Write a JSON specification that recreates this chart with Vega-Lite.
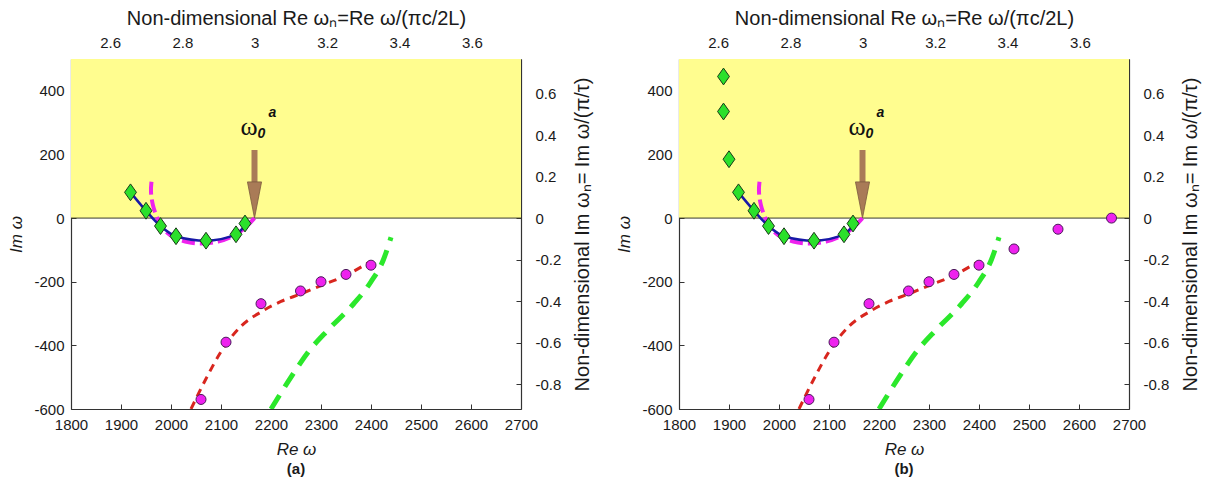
{
  "$schema": "https://vega.github.io/schema/vega-lite/v6.json",
  "padding": {"left": 7, "top": 8, "right": 4, "bottom": 4},
  "background": "white",
  "datasets": {
    "one": [{}],
    "diamonds_a": [
      {"re": 1919, "im": 81}, {"re": 1950, "im": 23}, {"re": 1979, "im": -25}, {"re": 2010, "im": -57},
      {"re": 2070, "im": -71}, {"re": 2130, "im": -51}, {"re": 2148, "im": -17}
    ],
    "diamonds_b": [
      {"re": 1889, "im": 445}, {"re": 1889, "im": 335}, {"re": 1900, "im": 185},
      {"re": 1919, "im": 81}, {"re": 1950, "im": 23}, {"re": 1979, "im": -25}, {"re": 2010, "im": -57},
      {"re": 2070, "im": -71}, {"re": 2130, "im": -51}, {"re": 2148, "im": -17}
    ],
    "blue": [
      {"re": 1919, "im": 81}, {"re": 1950, "im": 23}, {"re": 1979, "im": -25}, {"re": 2010, "im": -57},
      {"re": 2070, "im": -71}, {"re": 2130, "im": -51}, {"re": 2155, "im": -8}
    ],
    "magenta": [
      {"k": 1, "re": 1961, "im": 114}, {"k": 2, "re": 1959, "im": 85}, {"k": 3, "re": 1963, "im": 40},
      {"k": 4, "re": 1972, "im": 0}, {"k": 5, "re": 1984, "im": -36}, {"k": 6, "re": 2002, "im": -60},
      {"k": 7, "re": 2027, "im": -75}, {"k": 8, "re": 2060, "im": -82}, {"k": 9, "re": 2095, "im": -76},
      {"k": 10, "re": 2125, "im": -58}, {"k": 11, "re": 2150, "im": -30}, {"k": 12, "re": 2167, "im": 0}
    ],
    "circles_a": [
      {"re": 2060, "im": -570}, {"re": 2110, "im": -390}, {"re": 2180, "im": -269}, {"re": 2259, "im": -229},
      {"re": 2300, "im": -200}, {"re": 2350, "im": -177}, {"re": 2400, "im": -148}
    ],
    "circles_b": [
      {"re": 2060, "im": -570}, {"re": 2110, "im": -390}, {"re": 2180, "im": -269}, {"re": 2259, "im": -229},
      {"re": 2300, "im": -200}, {"re": 2350, "im": -177}, {"re": 2400, "im": -148}, {"re": 2470, "im": -97},
      {"re": 2558, "im": -35}, {"re": 2665, "im": 0}
    ],
    "red": [
      {"re": 2040, "im": -600}, {"re": 2070, "im": -505}, {"re": 2100, "im": -420}, {"re": 2140, "im": -340},
      {"re": 2180, "im": -295}, {"re": 2220, "im": -262}, {"re": 2260, "im": -238}, {"re": 2300, "im": -212},
      {"re": 2350, "im": -180}, {"re": 2395, "im": -140}
    ],
    "green": [
      {"re": 2200, "im": -600}, {"re": 2240, "im": -500}, {"re": 2275, "im": -420}, {"re": 2315, "im": -350},
      {"re": 2365, "im": -270}, {"re": 2400, "im": -200}, {"re": 2425, "im": -130}, {"re": 2440, "im": -60}
    ],
    "sec": [{"ren": 3.0, "imn": 0}]
  },
  "hconcat": [
    {
      "width": 450, "height": 350,
      "title": {"text": "(a)", "orient": "bottom", "fontSize": 15, "fontWeight": "bold", "font": "Liberation Sans", "offset": 5, "color": "#1a1a1a"},
      "layer": [
        {
          "layer": [
            {"data": {"name": "one"}, "mark": {"type": "rect", "color": "#FFFD8F"},
             "encoding": {
               "x": {"datum": 1800, "type": "quantitative", "scale": {"domain": [1800, 2700], "nice": false, "zero": false},
                     "axis": {"title": "Re ω", "titleFontStyle": "italic", "values": [1800, 1900, 2000, 2100, 2200, 2300, 2400, 2500, 2600, 2700], "labelExpr": "datum.value + ''", "labelPadding": 13, "titlePadding": 9}},
               "x2": {"datum": 2700},
               "y": {"datum": 0, "type": "quantitative", "scale": {"domain": [-600, 500], "nice": false, "zero": false},
                     "axis": {"title": "Im ω", "titleFontStyle": "italic", "values": [-600, -400, -200, 0, 200, 400], "labelExpr": "datum.value + ''", "labelPadding": 12, "titlePadding": 8}},
               "y2": {"datum": 500}
             }},
            {"data": {"name": "one"}, "mark": {"type": "rule", "color": "#3a3a2a", "strokeWidth": 1},
             "encoding": {"y": {"datum": 0, "type": "quantitative"}}},
            {"data": {"name": "green"}, "mark": {"type": "line", "color": "#2BE82B", "strokeWidth": 5, "strokeDash": [16, 10], "interpolate": "monotone", "clip": true},
             "encoding": {"x": {"field": "re", "type": "quantitative"}, "y": {"field": "im", "type": "quantitative"}}},
            {"data": {"name": "red"}, "mark": {"type": "line", "color": "#D8261E", "strokeWidth": 3, "strokeDash": [8, 6], "interpolate": "monotone", "clip": true},
             "encoding": {"x": {"field": "re", "type": "quantitative"}, "y": {"field": "im", "type": "quantitative"}}},
            {"data": {"name": "magenta"}, "mark": {"type": "line", "color": "#EE22EE", "strokeWidth": 4, "strokeDash": [13, 5], "interpolate": "basis"},
             "encoding": {"x": {"field": "re", "type": "quantitative"}, "y": {"field": "im", "type": "quantitative"}, "order": {"field": "k"}}},
            {"data": {"name": "blue"}, "mark": {"type": "line", "color": "#1818A8", "strokeWidth": 2.5, "interpolate": "monotone"},
             "encoding": {"x": {"field": "re", "type": "quantitative"}, "y": {"field": "im", "type": "quantitative"}}},
            {"data": {"name": "circles_a"}, "mark": {"type": "point", "shape": "circle", "filled": true, "fill": "#EE22EE", "stroke": "#4A1A5A", "strokeWidth": 1, "size": 100, "opacity": 1},
             "encoding": {"x": {"field": "re", "type": "quantitative"}, "y": {"field": "im", "type": "quantitative"}}},
            {"data": {"name": "diamonds_a"}, "mark": {"type": "point", "shape": "M0,-1.2L0.85,0L0,1.2L-0.85,0Z", "filled": true, "fill": "#2BE02B", "stroke": "#1A3A1A", "strokeWidth": 1, "size": 196, "opacity": 1},
             "encoding": {"x": {"field": "re", "type": "quantitative"}, "y": {"field": "im", "type": "quantitative"}}},
            {"data": {"name": "one"}, "mark": {"type": "rule", "color": "#A97B57", "strokeWidth": 6, "strokeCap": "butt"},
             "encoding": {"x": {"datum": 2167, "type": "quantitative"}, "y": {"datum": 110, "type": "quantitative"}, "y2": {"datum": 214}}},
            {"data": {"name": "one"}, "mark": {"type": "point", "shape": "M-0.39,-2L0.39,-2L0,0Z", "filled": true, "fill": "#A97B57", "stroke": "#7B5A3E", "strokeWidth": 0.8, "size": 1310, "opacity": 1},
             "encoding": {"x": {"datum": 2167, "type": "quantitative"}, "y": {"datum": 0, "type": "quantitative"}}},
            {"data": {"name": "one"}, "mark": {"type": "text", "text": "ω", "font": "Liberation Serif", "fontSize": 26, "align": "center", "baseline": "alphabetic", "color": "#111"},
             "encoding": {"x": {"datum": 2156, "type": "quantitative"}, "y": {"datum": 262, "type": "quantitative"}}},
            {"data": {"name": "one"}, "mark": {"type": "text", "text": "0", "font": "Liberation Sans", "fontSize": 14, "fontWeight": "bold", "fontStyle": "italic", "align": "center", "baseline": "alphabetic", "color": "#111"},
             "encoding": {"x": {"datum": 2181, "type": "quantitative"}, "y": {"datum": 252, "type": "quantitative"}}},
            {"data": {"name": "one"}, "mark": {"type": "text", "text": "a", "font": "Liberation Sans", "fontSize": 14, "fontWeight": "bold", "fontStyle": "italic", "align": "center", "baseline": "alphabetic", "color": "#111"},
             "encoding": {"x": {"datum": 2203, "type": "quantitative"}, "y": {"datum": 318, "type": "quantitative"}}}
          ]
        },
        {
          "data": {"name": "sec"},
          "mark": {"type": "point", "opacity": 0},
          "encoding": {
            "x": {"field": "ren", "type": "quantitative", "scale": {"domain": [2.492, 3.736], "nice": false, "zero": false},
                  "axis": {"orient": "top", "title": "Non-dimensional Re ωₙ=Re ω/(πc/2L)", "titleFontSize": 20, "values": [2.6, 2.8, 3, 3.2, 3.4, 3.6], "labelExpr": "datum.value + ''", "labelPadding": 14, "titlePadding": 7}},
            "y": {"field": "imn", "type": "quantitative", "scale": {"domain": [-0.92, 0.768], "nice": false, "zero": false},
                  "axis": {"orient": "right", "title": "Non-dimensional  Im ωₙ= Im ω/(π/τ)", "titleFontSize": 20, "titleAngle": 270, "titleBaseline": "top", "values": [-0.8, -0.6, -0.4, -0.2, 0, 0.2, 0.4, 0.6], "labelExpr": "datum.value + ''", "labelPadding": 19, "titlePadding": 12}}
          }
        }
      ],
      "resolve": {"scale": {"x": "independent", "y": "independent"}}
    },
    {
      "width": 450, "height": 350,
      "title": {"text": "(b)", "orient": "bottom", "fontSize": 15, "fontWeight": "bold", "font": "Liberation Sans", "offset": 5, "color": "#1a1a1a"},
      "layer": [
        {
          "layer": [
            {"data": {"name": "one"}, "mark": {"type": "rect", "color": "#FFFD8F"},
             "encoding": {
               "x": {"datum": 1800, "type": "quantitative", "scale": {"domain": [1800, 2700], "nice": false, "zero": false},
                     "axis": {"title": "Re ω", "titleFontStyle": "italic", "values": [1800, 1900, 2000, 2100, 2200, 2300, 2400, 2500, 2600, 2700], "labelExpr": "datum.value + ''", "labelPadding": 13, "titlePadding": 9}},
               "x2": {"datum": 2700},
               "y": {"datum": 0, "type": "quantitative", "scale": {"domain": [-600, 500], "nice": false, "zero": false},
                     "axis": {"title": "Im ω", "titleFontStyle": "italic", "values": [-600, -400, -200, 0, 200, 400], "labelExpr": "datum.value + ''", "labelPadding": 12, "titlePadding": 8}},
               "y2": {"datum": 500}
             }},
            {"data": {"name": "one"}, "mark": {"type": "rule", "color": "#3a3a2a", "strokeWidth": 1},
             "encoding": {"y": {"datum": 0, "type": "quantitative"}}},
            {"data": {"name": "green"}, "mark": {"type": "line", "color": "#2BE82B", "strokeWidth": 5, "strokeDash": [16, 10], "interpolate": "monotone", "clip": true},
             "encoding": {"x": {"field": "re", "type": "quantitative"}, "y": {"field": "im", "type": "quantitative"}}},
            {"data": {"name": "red"}, "mark": {"type": "line", "color": "#D8261E", "strokeWidth": 3, "strokeDash": [8, 6], "interpolate": "monotone", "clip": true},
             "encoding": {"x": {"field": "re", "type": "quantitative"}, "y": {"field": "im", "type": "quantitative"}}},
            {"data": {"name": "magenta"}, "mark": {"type": "line", "color": "#EE22EE", "strokeWidth": 4, "strokeDash": [13, 5], "interpolate": "basis"},
             "encoding": {"x": {"field": "re", "type": "quantitative"}, "y": {"field": "im", "type": "quantitative"}, "order": {"field": "k"}}},
            {"data": {"name": "blue"}, "mark": {"type": "line", "color": "#1818A8", "strokeWidth": 2.5, "interpolate": "monotone"},
             "encoding": {"x": {"field": "re", "type": "quantitative"}, "y": {"field": "im", "type": "quantitative"}}},
            {"data": {"name": "circles_b"}, "mark": {"type": "point", "shape": "circle", "filled": true, "fill": "#EE22EE", "stroke": "#4A1A5A", "strokeWidth": 1, "size": 100, "opacity": 1},
             "encoding": {"x": {"field": "re", "type": "quantitative"}, "y": {"field": "im", "type": "quantitative"}}},
            {"data": {"name": "diamonds_b"}, "mark": {"type": "point", "shape": "M0,-1.2L0.85,0L0,1.2L-0.85,0Z", "filled": true, "fill": "#2BE02B", "stroke": "#1A3A1A", "strokeWidth": 1, "size": 196, "opacity": 1},
             "encoding": {"x": {"field": "re", "type": "quantitative"}, "y": {"field": "im", "type": "quantitative"}}},
            {"data": {"name": "one"}, "mark": {"type": "rule", "color": "#A97B57", "strokeWidth": 6, "strokeCap": "butt"},
             "encoding": {"x": {"datum": 2167, "type": "quantitative"}, "y": {"datum": 110, "type": "quantitative"}, "y2": {"datum": 214}}},
            {"data": {"name": "one"}, "mark": {"type": "point", "shape": "M-0.39,-2L0.39,-2L0,0Z", "filled": true, "fill": "#A97B57", "stroke": "#7B5A3E", "strokeWidth": 0.8, "size": 1310, "opacity": 1},
             "encoding": {"x": {"datum": 2167, "type": "quantitative"}, "y": {"datum": 0, "type": "quantitative"}}},
            {"data": {"name": "one"}, "mark": {"type": "text", "text": "ω", "font": "Liberation Serif", "fontSize": 26, "align": "center", "baseline": "alphabetic", "color": "#111"},
             "encoding": {"x": {"datum": 2156, "type": "quantitative"}, "y": {"datum": 262, "type": "quantitative"}}},
            {"data": {"name": "one"}, "mark": {"type": "text", "text": "0", "font": "Liberation Sans", "fontSize": 14, "fontWeight": "bold", "fontStyle": "italic", "align": "center", "baseline": "alphabetic", "color": "#111"},
             "encoding": {"x": {"datum": 2181, "type": "quantitative"}, "y": {"datum": 252, "type": "quantitative"}}},
            {"data": {"name": "one"}, "mark": {"type": "text", "text": "a", "font": "Liberation Sans", "fontSize": 14, "fontWeight": "bold", "fontStyle": "italic", "align": "center", "baseline": "alphabetic", "color": "#111"},
             "encoding": {"x": {"datum": 2203, "type": "quantitative"}, "y": {"datum": 318, "type": "quantitative"}}}
          ]
        },
        {
          "data": {"name": "sec"},
          "mark": {"type": "point", "opacity": 0},
          "encoding": {
            "x": {"field": "ren", "type": "quantitative", "scale": {"domain": [2.492, 3.736], "nice": false, "zero": false},
                  "axis": {"orient": "top", "title": "Non-dimensional Re ωₙ=Re ω/(πc/2L)", "titleFontSize": 20, "values": [2.6, 2.8, 3, 3.2, 3.4, 3.6], "labelExpr": "datum.value + ''", "labelPadding": 14, "titlePadding": 7}},
            "y": {"field": "imn", "type": "quantitative", "scale": {"domain": [-0.92, 0.768], "nice": false, "zero": false},
                  "axis": {"orient": "right", "title": "Non-dimensional  Im ωₙ= Im ω/(π/τ)", "titleFontSize": 20, "titleAngle": 270, "titleBaseline": "top", "values": [-0.8, -0.6, -0.4, -0.2, 0, 0.2, 0.4, 0.6], "labelExpr": "datum.value + ''", "labelPadding": 19, "titlePadding": 12}}
          }
        }
      ],
      "resolve": {"scale": {"x": "independent", "y": "independent"}}
    }
  ],
  "spacing": 22,
  "config": {
    "view": {"stroke": null},
    "axis": {"grid": false, "domainColor": "#333", "tickColor": "#333", "domainWidth": 1.2, "tickSize": -5, "labelOverlap": false, "labelFlush": false,
             "labelFont": "Liberation Sans", "labelFontSize": 15, "labelColor": "#1a1a1a",
             "titleFont": "Liberation Sans", "titleFontSize": 17, "titleFontWeight": "normal", "titleColor": "#1a1a1a"}
  }
}
